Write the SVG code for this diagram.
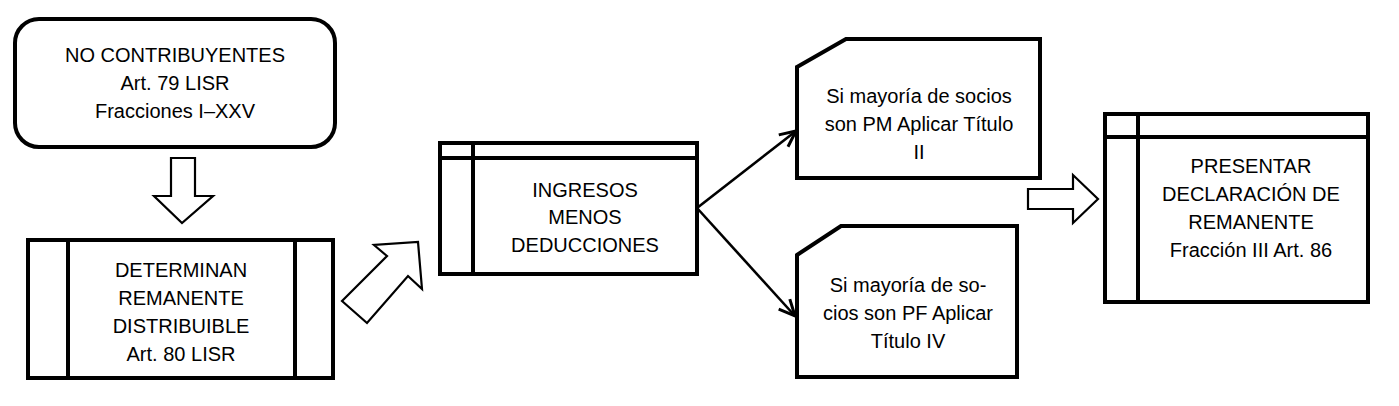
<svg xmlns="http://www.w3.org/2000/svg" width="1399" height="406" viewBox="0 0 1399 406">
<defs>
<style>
.box{fill:#fff;stroke:#000;stroke-width:4;stroke-linejoin:miter}
.div{stroke:#000;stroke-width:4;fill:none}
.blk{fill:#fff;stroke:#000;stroke-width:2.2;stroke-linejoin:miter}
.con{stroke:#000;stroke-width:2.6;fill:none}
text{font-family:"Liberation Sans",Arial,sans-serif;font-size:20px;fill:#000;text-anchor:middle}
</style>
<marker id="ah" markerUnits="userSpaceOnUse" viewBox="-18 -10 20 20" refX="0" refY="0" markerWidth="20" markerHeight="20" orient="auto">
<path d="M-16,-7.5 L0,0 L-16,7.5" fill="none" stroke="#000" stroke-width="3"/>
</marker>
</defs>
<rect width="1399" height="406" fill="#fff"/>
<g id="connectors">
<polygon class="blk" points="171,158 195,158 195,196 213,196 182,223 154,196 171,196"/>
<polygon class="blk" points="342,301 387,256 374,245 418,242 422,289 408,276 367,323"/>
<line class="con" x1="697" y1="208" x2="796" y2="131" marker-end="url(#ah)"/>
<line class="con" x1="697" y1="208" x2="795" y2="316" marker-end="url(#ah)"/>
<polygon class="blk" points="1028,189 1073,189 1073,175 1098,199 1073,223 1073,209 1028,209"/>
</g>
<g id="n1">
<rect class="box" x="15" y="19" width="320" height="128" rx="24" ry="24"/>
<text x="175" y="62">NO CONTRIBUYENTES</text>
<text x="175" y="90">Art. 79 LISR</text>
<text x="175" y="118">Fracciones I–XXV</text>
</g>
<g id="n2">
<rect class="box" x="28" y="240" width="305" height="138"/>
<line class="div" x1="68" y1="240" x2="68" y2="378"/>
<line class="div" x1="295" y1="240" x2="295" y2="378"/>
<text x="181" y="277">DETERMINAN</text>
<text x="181" y="305">REMANENTE</text>
<text x="181" y="333">DISTRIBUIBLE</text>
<text x="181" y="361">Art. 80 LISR</text>
</g>
<g id="n3">
<rect class="box" x="440" y="143" width="257" height="131"/>
<line class="div" x1="440" y1="158" x2="697" y2="158"/>
<line class="div" x1="473" y1="143" x2="473" y2="274"/>
<text x="585" y="197">INGRESOS</text>
<text x="585" y="224">MENOS</text>
<text x="585" y="252">DEDUCCIONES</text>
</g>
<g id="n4">
<polygon class="box" points="797,67 846,39 1040,39 1040,178 797,178"/>
<text x="919" y="103">Si mayoría de socios</text>
<text x="919" y="131">son PM Aplicar Título</text>
<text x="919" y="159">II</text>
</g>
<g id="n5">
<polygon class="box" points="797,255 841,226 1017,226 1017,377 797,377"/>
<text x="908" y="292">Si mayoría de so-</text>
<text x="908" y="320">cios son PF Aplicar</text>
<text x="908" y="348">Título IV</text>
</g>
<g id="n6">
<rect class="box" x="1105" y="114" width="263" height="188"/>
<line class="div" x1="1105" y1="137" x2="1368" y2="137"/>
<line class="div" x1="1138" y1="114" x2="1138" y2="302"/>
<text x="1251" y="173">PRESENTAR</text>
<text x="1251" y="201">DECLARACIÓN DE</text>
<text x="1251" y="229">REMANENTE</text>
<text x="1251" y="257">Fracción III Art. 86</text>
</g>
</svg>
